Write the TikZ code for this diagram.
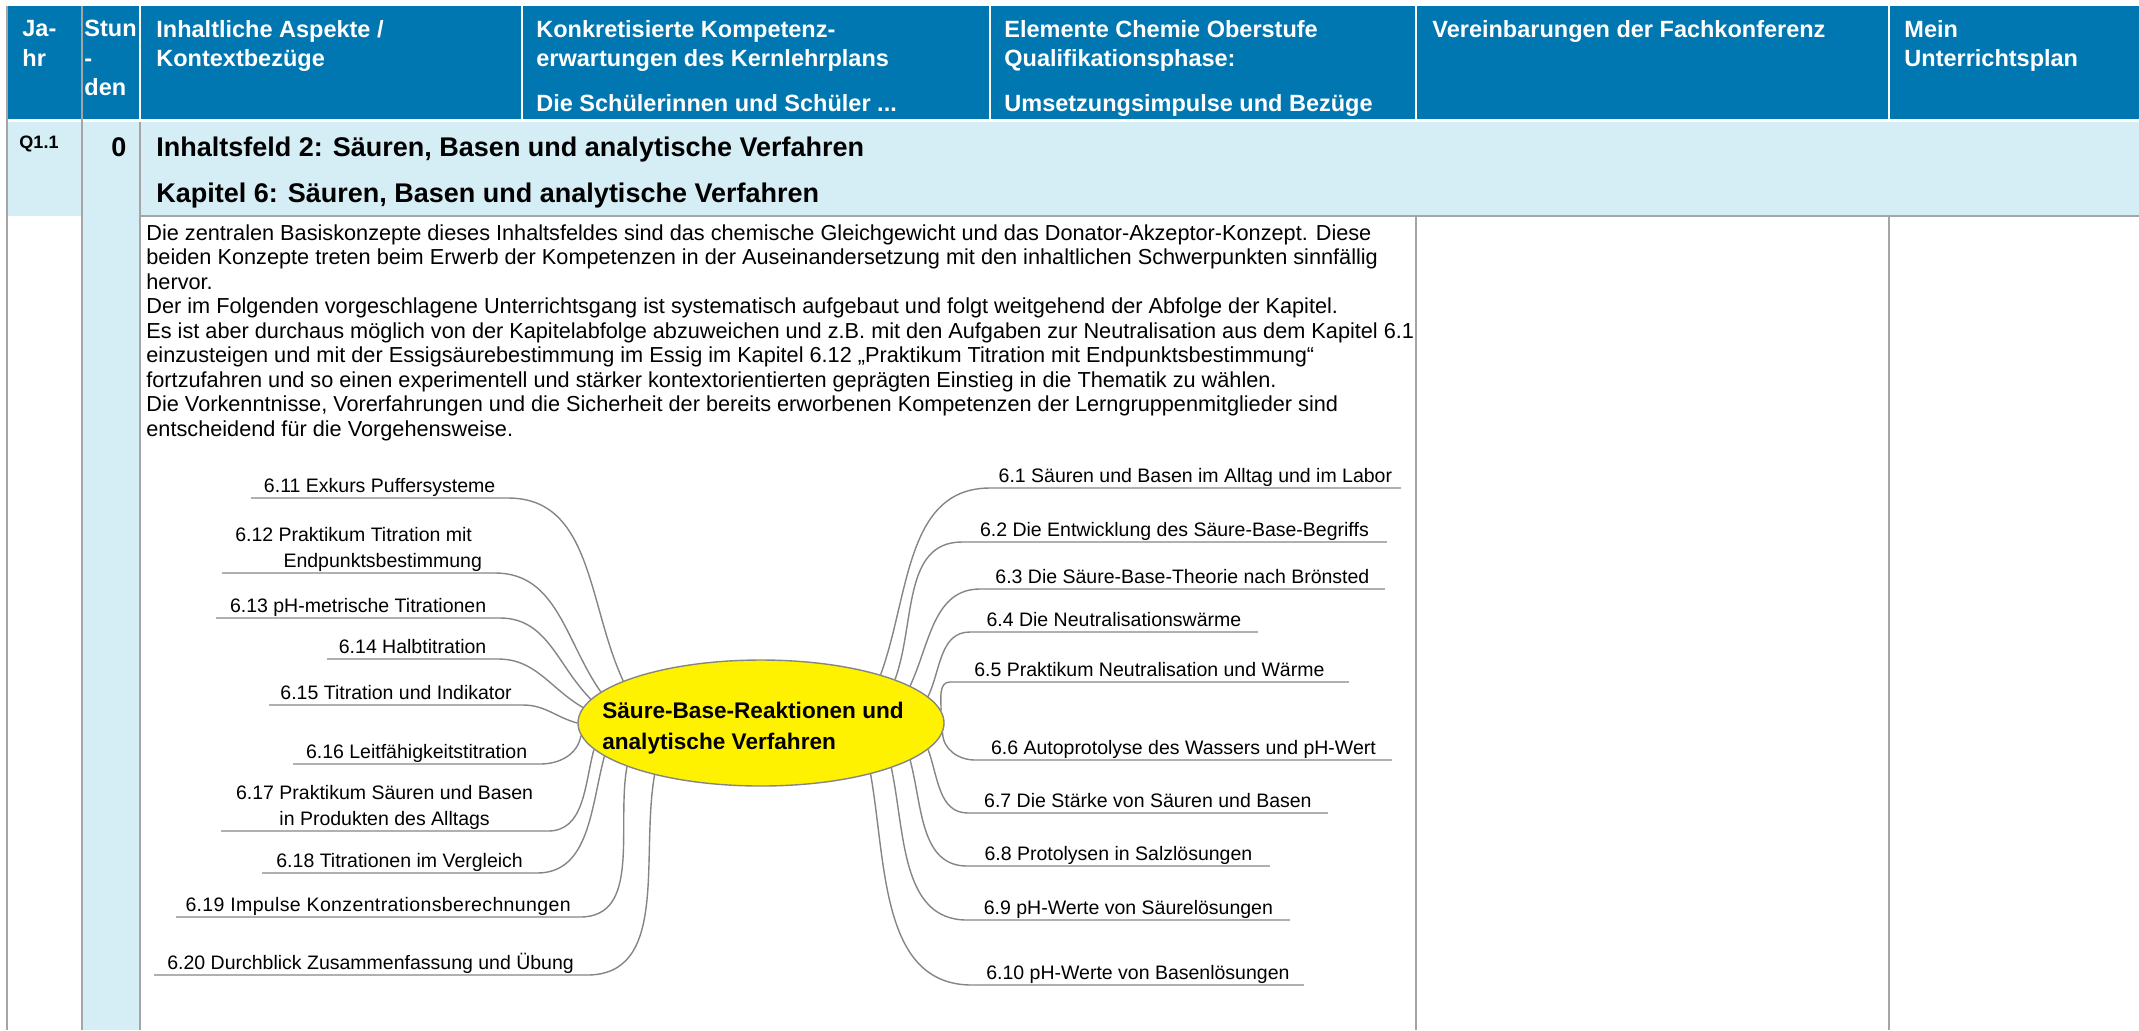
\documentclass[tikz,border=0pt]{standalone}
\usepackage{fontspec}
\setmainfont{Liberation Sans}
\usetikzlibrary{shapes.geometric}

\definecolor{headblue}{HTML}{0077B0}
\definecolor{rowblue}{HTML}{D5EDF5}
\definecolor{gridgray}{HTML}{A5A5A5}
\definecolor{linegray}{HTML}{858585}

\tikzset{
  headtext/.style={anchor=north west, inner sep=0pt, align=left, text=white,
    font=\bfseries\fontsize{11.75}{14.75}\selectfont},
  grid/.style={draw=gridgray, line width=1pt},
  topic/.style={inner xsep=0pt, inner ysep=0pt, text depth=2.5pt,
    font=\fontsize{9.75}{13}\selectfont},
  branch/.style={draw=linegray, line width=0.7pt},
  core/.style={ellipse, draw=linegray, fill=yellow, line width=0.7pt,
    minimum width=183pt, minimum height=63pt, inner sep=0pt},
  coretext/.style={inner sep=0pt, align=left, font=\bfseries\fontsize{11.3}{15.3}\selectfont},
}

\begin{document}
\begin{tikzpicture}[x=0.5pt, y=-0.5pt]
\useasboundingbox (0,0) rectangle (2139,1030);

% TABLE
\fill[headblue] (7,6) rectangle (2139,119);
\fill[rowblue] (7,122) rectangle (2139,216);
\fill[rowblue] (82,216) rectangle (140,1030);
\draw[white, line width=1pt] (140,6) -- (140,119) (522,6) -- (522,119)
  (990,6) -- (990,119) (1416,6) -- (1416,119) (1889,6) -- (1889,119);
\draw[grid] (7,6) -- (7,1030);
\draw[grid] (82,6) -- (82,1030);
\draw[grid] (140,122) -- (140,1030);
\draw[grid] (140,216) -- (2139,216);
\draw[grid] (1416,216) -- (1416,1030);
\draw[grid] (1889,216) -- (1889,1030);

% HEADER
\node[headtext] (hjahr) at (22,20) {Ja-\\hr};
\node[headtext] (hstd) at (84,20) {Stun\\-\\den};
\node[headtext] (hinh) at (156,20) {Inhaltliche Aspekte /\\Kontextbezüge};
\node[headtext] (hkomp) at (536,20) {Konkretisierte Kompetenz-\\erwartungen des Kernlehrplans\\[7.5pt]Die Schülerinnen und Schüler ...};
\node[headtext] (helem) at (1004,20) {Elemente Chemie Oberstufe\\Qualifikationsphase:\\[7.5pt]Umsetzungsimpulse und Bezüge};
\node[headtext] (hver) at (1432,20) {Vereinbarungen der Fachkonferenz};
\node[headtext] (hmein) at (1904,20) {Mein\\Unterrichtsplan};

% ROW Q1.1
\node[font=\bfseries\fontsize{9}{11}\selectfont] (jahr) at (39,144) {Q1.1};
\node[font=\bfseries\fontsize{13.5}{16}\selectfont] (std) at (119,147) {0};
\node[anchor=north west, inner sep=0pt, align=left, font=\bfseries\fontsize{13.5}{23}\selectfont] (feld) at (156,137)
  {Inhaltsfeld 2: Säuren, Basen und analytische Verfahren\\Kapitel 6: Säuren, Basen und analytische Verfahren};

\node[anchor=north west, inner sep=0pt, align=left, font=\fontsize{10.85}{12.25}\selectfont] (intro) at (146,224)
  {Die zentralen Basiskonzepte dieses Inhaltsfeldes sind das chemische Gleichgewicht und das Donator-Akzeptor-Konzept. Diese\\
   beiden Konzepte treten beim Erwerb der Kompetenzen in der Auseinandersetzung mit den inhaltlichen Schwerpunkten sinnfällig\\
   hervor.\\
   Der im Folgenden vorgeschlagene Unterrichtsgang ist systematisch aufgebaut und folgt weitgehend der Abfolge der Kapitel.\\
   Es ist aber durchaus möglich von der Kapitelabfolge abzuweichen und z.B. mit den Aufgaben zur Neutralisation aus dem Kapitel 6.1\\
   einzusteigen und mit der Essigsäurebestimmung im Essig im Kapitel 6.12 „Praktikum Titration mit Endpunktsbestimmung“\\
   fortzufahren und so einen experimentell und stärker kontextorientierten geprägten Einstieg in die Thematik zu wählen.\\
   Die Vorkenntnisse, Vorerfahrungen und die Sicherheit der bereits erworbenen Kompetenzen der Lerngruppenmitglieder sind\\
   entscheidend für die Vorgehensweise.};

% MIND MAP
\node[core] (core) at (761,723) {};
\node[coretext] (corelabel) at (753,728) {Säure-Base-Reaktionen und\\analytische Verfahren};

% LEFT
\node[topic, minimum width=128pt, anchor=south east] (t11) at (508,498) {6.11 Exkurs Puffersysteme};
\node[topic, minimum width=136pt, anchor=south east, align=right] (t12) at (495,573) {6.12 Praktikum Titration mit\hspace*{5pt}\\Endpunktsbestimmung};
\node[topic, minimum width=141.5pt, anchor=south east] (t13) at (500,618) {6.13 pH-metrische Titrationen};
\node[topic, minimum width=85pt, anchor=south east] (t14) at (498,659) {6.14 Halbtitration};
\node[topic, minimum width=126.5pt, anchor=south east] (t15) at (523,705) {6.15 Titration und Indikator};
\node[topic, minimum width=123pt, anchor=south east] (t16) at (540,764) {6.16 Leitfähigkeitstitration};
\node[topic, minimum width=163pt, anchor=south east, align=center] (t17) at (548,831) {6.17 Praktikum Säuren und Basen\\in Produkten des Alltags};
\node[topic, minimum width=137pt, anchor=south east] (t18) at (537,873) {6.18 Titrationen im Vergleich};
\node[topic, minimum width=201.5pt, anchor=south east] (t19) at (580,917) {\addfontfeature{LetterSpace=1.9}6.19 Impulse Konzentrationsberechnungen};
\node[topic, minimum width=216pt, anchor=south east] (t20) at (587,975) {6.20 Durchblick Zusammenfassung und Übung};

\draw[branch] (t11.south west) -- (t11.south east) to[out=0, in=115] (core.163);
\draw[branch] (t12.south west) -- (t12.south east) to[out=0, in=125] (core.169);
\draw[branch] (t13.south west) -- (t13.south east) to[out=0, in=135] (core.172);
\draw[branch] (t14.south west) -- (t14.south east) to[out=0, in=150] (core.175);
\draw[branch] (t15.south west) -- (t15.south east) to[out=0, in=165] (core.180);
\draw[branch] (t16.south west) -- (t16.south east) to[out=0, in=-100] (core.184);
\draw[branch] (t17.south west) -- (t17.south east) to[out=0, in=-105] (core.189);
\draw[branch] (t18.south west) -- (t18.south east) to[out=0, in=-105] (core.192);
\draw[branch] (t19.south west) -- (t19.south east) to[out=0, in=-100] (core.198);
\draw[branch] (t20.south west) -- (t20.south east) to[out=0, in=-100] (core.206);

% RIGHT
\node[topic, minimum width=205pt, anchor=south west] (t1) at (990,488) {6.1 Säuren und Basen im Alltag und im Labor};
\node[topic, minimum width=212pt, anchor=south west] (t2) at (962,542) {6.2 Die Entwicklung des Säure-Base-Begriffs};
\node[topic, minimum width=202pt, anchor=south west] (t3) at (980,589) {6.3 Die Säure-Base-Theorie nach Brönsted};
\node[topic, minimum width=143.5pt, anchor=south west] (t4) at (970,632) {6.4 Die Neutralisationswärme};
\node[topic, minimum width=199pt, anchor=south west] (t5) at (950,682) {6.5 Praktikum Neutralisation und Wärme};
\node[topic, minimum width=208pt, anchor=south west] (t6) at (975,760) {6.6 Autoprotolyse des Wassers und pH-Wert};
\node[topic, minimum width=179.5pt, anchor=south west] (t7) at (968,813) {6.7 Die Stärke von Säuren und Basen};
\node[topic, minimum width=151pt, anchor=south west] (t8) at (967,866) {6.8 Protolysen in Salzlösungen};
\node[topic, minimum width=161pt, anchor=south west] (t9) at (967,920) {6.9 pH-Werte von Säurelösungen};
\node[topic, minimum width=165.5pt, anchor=south west] (t10) at (972,985) {6.10 pH-Werte von Basenlösungen};

\draw[branch] (core.22) to[out=70, in=180] (t1.south west) -- (t1.south east);
\draw[branch] (core.18) to[out=70, in=180] (t2.south west) -- (t2.south east);
\draw[branch] (core.14) to[out=65, in=180] (t3.south west) -- (t3.south east);
\draw[branch] (core.9) to[out=65, in=180] (t4.south west) -- (t4.south east);
\draw[branch] (core.4) to[out=90, in=180] (t5.south west) -- (t5.south east);
\draw[branch] (core.-3) to[out=-90, in=180] (t6.south west) -- (t6.south east);
\draw[branch] (core.-9) to[out=-70, in=180] (t7.south west) -- (t7.south east);
\draw[branch] (core.-14) to[out=-75, in=180] (t8.south west) -- (t8.south east);
\draw[branch] (core.-19) to[out=-78, in=180] (t9.south west) -- (t9.south east);
\draw[branch] (core.-25) to[out=-80, in=180] (t10.south west) -- (t10.south east);
\end{tikzpicture}
\end{document}
